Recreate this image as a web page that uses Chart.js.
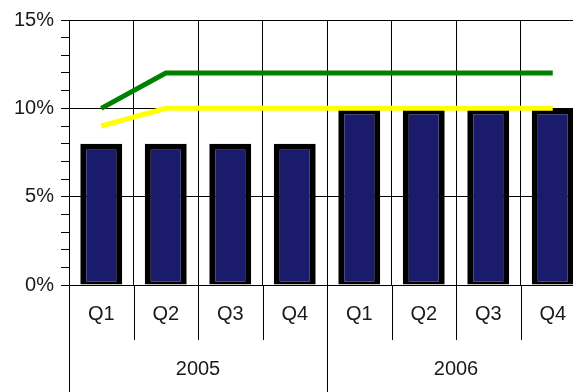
<!DOCTYPE html>
<html>
<head>
<meta charset="utf-8">
<script src="https://cdn.jsdelivr.net/npm/chart.js@4/dist/chart.umd.min.js"></script>
<style>
  html, body { margin: 0; padding: 0; background: #fff; overflow: hidden; }
  #wrap { width: 586px; height: 392px; }
</style>
</head>
<body>
<div id="wrap"><canvas id="quarterChart" width="586" height="392"></canvas></div>
<script>
// Quarterly values (percent)
const quarters = ['Q1', 'Q2', 'Q3', 'Q4', 'Q1', 'Q2', 'Q3', 'Q4'];
const years = ['2005', '2006'];
const barValues = [8, 8, 8, 8, 10, 10, 10, 10];
const greenValues = [10, 12, 12, 12, 12, 12, 12, 12];
const yellowValues = [9, 10, 10, 10, 10, 10, 10, 10];

const FONT = '20px "Liberation Sans", Arial, sans-serif';
const TEXT = '#1a1a1a';

// Draws the quarter / year rows under the x axis
const groupAxis = {
    id: 'groupAxis',
    afterDraw(chart) {
        const ctx = chart.ctx;
        const x = chart.scales.x;
        const area = chart.chartArea;
        const step = x.width / quarters.length;
        const bottom = chart.height;
        ctx.save();
        ctx.strokeStyle = '#000';
        ctx.lineWidth = 1;
        ctx.font = FONT;
        ctx.fillStyle = TEXT;
        ctx.textAlign = 'center';
        ctx.textBaseline = 'middle';

        for (let i = 0; i <= quarters.length; i++) {
            const px = Math.round(x.left + i * step) + 0.5;
            const end = (i % 4 === 0) ? bottom : area.bottom + 55;
            ctx.beginPath();
            ctx.moveTo(px, area.bottom);
            ctx.lineTo(px, end);
            ctx.stroke();
        }
        quarters.forEach((q, i) => {
            ctx.fillText(q, x.getPixelForValue(i), area.bottom + 29);
        });
        years.forEach((y, j) => {
            const cx = x.left + (j * 4 + 2) * step;
            ctx.fillText(y, cx, area.bottom + 84);
        });
        ctx.restore();
    }
};

const ctx = document.getElementById('quarterChart').getContext('2d');
new Chart(ctx, {
    type: 'bar',
    data: {
        labels: quarters,
        datasets: [
            {
                type: 'line',
                data: greenValues,
                borderColor: '#008000',
                borderWidth: 5,
                pointRadius: 0,
                tension: 0
            },
            {
                type: 'line',
                data: yellowValues,
                borderColor: '#ffff00',
                borderWidth: 5,
                pointRadius: 0,
                tension: 0
            },
            {
                data: barValues,
                backgroundColor: '#1b1b6c',
                borderColor: '#000',
                borderWidth: { top: 6, left: 6, right: 6, bottom: 3 },
                borderSkipped: false,
                inflateAmount: 0,
                categoryPercentage: 1,
                barPercentage: 0.65
            }
        ]
    },
    options: {
        responsive: false,
        animation: false,
        devicePixelRatio: 1,
        layout: { padding: { top: 20, right: 1, left: 0, bottom: 0 } },
        plugins: {
            legend: { display: false },
            tooltip: { enabled: false }
        },
        scales: {
            x: {
                offset: true,
                grid: { offset: true, color: '#000', drawTicks: false },
                border: { color: '#000' },
                ticks: { display: false },
                afterFit: s => { s.height = 107; }
            },
            y: {
                min: 0,
                max: 15,
                ticks: {
                    stepSize: 1,
                    autoSkip: false,
                    padding: 7,
                    color: TEXT,
                    font: { family: '"Liberation Sans", Arial, sans-serif', size: 20 },
                    callback: v => (v % 5 === 0 ? v + '%' : '')
                },
                grid: {
                    tickLength: 8,
                    color: c => (c.tick && c.tick.value % 5 === 0 ? '#000' : 'rgba(0,0,0,0)'),
                    tickColor: '#000'
                },
                border: { color: '#000' },
                afterFit: s => { s.width = 69; }
            }
        }
    },
    plugins: [groupAxis]
});
</script>
</body>
</html>
